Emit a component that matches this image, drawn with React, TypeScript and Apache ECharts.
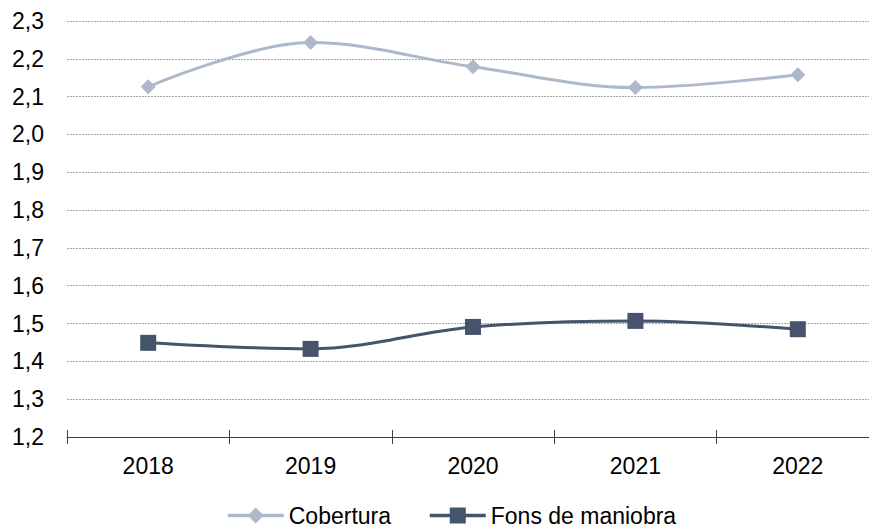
import React, { useEffect, useRef } from "react";
import * as echarts from "echarts";

const categories = ["2018", "2019", "2020", "2021", "2022"];
const cobertura = [2.126, 2.243, 2.179, 2.124, 2.158];
const fonsManiobra = [1.449, 1.433, 1.491, 1.507, 1.485];

const FONT = "'Liberation Sans', Arial, sans-serif";

export default function App() {
  const ref = useRef<HTMLDivElement>(null);
  useEffect(() => {
    if (!ref.current) return;
    const chart = echarts.init(ref.current, undefined, { renderer: "svg" });
    const fmt = (v: number) => v.toFixed(1).replace(".", ",");
    chart.setOption({
      animation: false,
      textStyle: { fontFamily: FONT },
      grid: { left: 67, right: 0, top: 21, bottom: 92 },
      legend: {
        bottom: 2,
        left: 226,
        padding: 0,
        itemWidth: 56,
        itemHeight: 20,
        itemGap: 37,
        lineStyle: { width: 3.5 },
        textStyle: { fontSize: 23, color: "#000", fontFamily: FONT },
        data: ["Cobertura", "Fons de maniobra"],
      },
      xAxis: [
        {
          type: "category",
          data: categories,
          boundaryGap: true,
          axisLine: { lineStyle: { color: "#404040", width: 1 } },
          axisTick: { show: true, length: 7, lineStyle: { color: "#404040" } },
          axisLabel: { fontSize: 23, color: "#000", margin: 17, fontFamily: FONT },
        },
        {
          type: "category",
          data: categories,
          position: "bottom",
          boundaryGap: true,
          axisLine: { show: false },
          axisTick: { show: true, inside: true, length: 7, lineStyle: { color: "#404040" } },
          axisLabel: { show: false },
        },
      ],
      yAxis: {
        type: "value",
        min: 1.2,
        max: 2.3,
        interval: 0.1,
        axisLine: { show: false },
        axisTick: { show: false },
        axisLabel: { fontSize: 23, color: "#000", margin: 23, formatter: fmt, fontFamily: FONT },
        splitLine: { lineStyle: { color: "#A6A6A6", type: [2, 1], width: 1 } },
      },
      series: [
        {
          name: "Cobertura",
          type: "line",
          data: cobertura,
          smooth: 0.35,
          symbol: "diamond",
          symbolSize: 15,
          itemStyle: { color: "#ADB9CA" },
          lineStyle: { color: "#ADB9CA", width: 3 },
        },
        {
          name: "Fons de maniobra",
          type: "line",
          data: fonsManiobra,
          smooth: 0.35,
          symbol: "rect",
          symbolSize: 16,
          itemStyle: { color: "#44546A" },
          lineStyle: { color: "#44546A", width: 3 },
        },
      ],
    });
    return () => chart.dispose();
  }, []);
  return (
    <div style={{ position: "absolute", left: 0, top: 0, width: 869, height: 529, overflow: "hidden" }}>
      <div ref={ref} style={{ width: 879, height: 529 }} />
    </div>
  );
}
